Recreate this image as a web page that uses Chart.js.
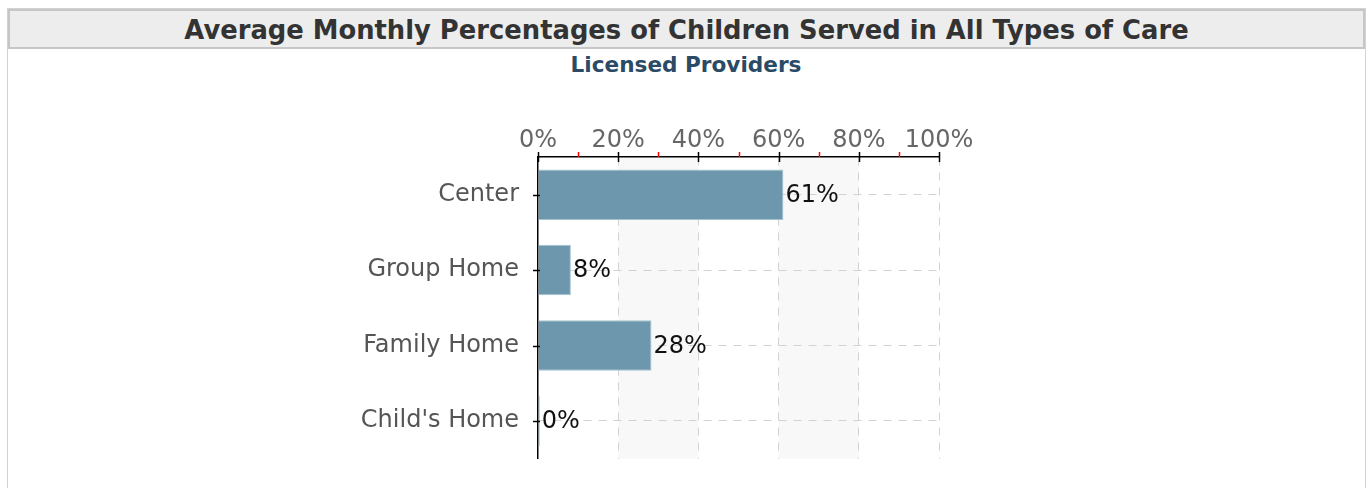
<!DOCTYPE html>
<html>
<head>
<meta charset="utf-8">
<script src="https://cdn.jsdelivr.net/npm/chart.js@4.4.0/dist/chart.umd.min.js"></script>
<style>
  html, body { margin: 0; padding: 0; background: #fff; width: 1370px; height: 488px; overflow: hidden; }
  .box { position: absolute; left: 7px; top: 8px; width: 1357px; height: 520px; border: 1px solid #d2d2d2; }
  .head { height: 36px; margin: 0; border: 2px solid #c6c6c6; background: #ededed;
          font: bold 25.8px "DejaVu Sans", sans-serif; color: #333; text-align: center; line-height: 39px; }
  .sub { position: absolute; left: 0; width: 1372px; top: 52px; text-align: center;
         font: bold 21.6px "DejaVu Sans", sans-serif; color: #2a4a66; }
  #chart { position: absolute; left: 300px; top: 80px; }
</style>
</head>
<body>
<div class="box"><div class="head">Average Monthly Percentages of Children Served in All Types of Care</div></div>
<div class="sub">Licensed Providers</div>
<canvas id="chart" width="700" height="412"></canvas>
<script>
// Datos
const categories = ['Center', 'Group Home', 'Family Home', "Child's Home"];
const percentValues = [61.2, 8.2, 28.3, 0.45];
const tickValues = [0, 20, 40, 60, 80, 100];
const shadedBands = [[20, 40], [60, 80]];

document.addEventListener('DOMContentLoaded', function () {

    const labelFont = { family: 'DejaVu Sans', size: 24 };

    // Franjas grises alternas detrás de la rejilla
    const bandsPlugin = {
        id: 'bands',
        beforeDraw(chart) {
            const { ctx, chartArea, scales } = chart;
            ctx.save();
            ctx.fillStyle = '#f8f8f8';
            shadedBands.forEach(function (b) {
                const x1 = scales.x.getPixelForValue(b[0]);
                const x2 = scales.x.getPixelForValue(b[1]);
                ctx.fillRect(x1, chartArea.top, x2 - x1, chartArea.bottom - chartArea.top);
            });
            ctx.restore();
        }
    };

    // Marcas de los ejes (negras mayores, rojas menores)
    const tickMarksPlugin = {
        id: 'tickMarks',
        afterDraw(chart) {
            const { ctx, scales } = chart;
            ctx.save();
            ctx.lineWidth = 1.5;
            scales.x.ticks.forEach(function (t) {
                const px = Math.round(scales.x.getPixelForValue(t.value)) + 0.5;
                const y0 = scales.x.bottom;
                const major = t.value % 20 === 0;
                ctx.strokeStyle = major ? '#000' : '#ff0000';
                ctx.beginPath();
                ctx.moveTo(px, y0 - 5);
                ctx.lineTo(px, major ? y0 + 5 : y0);
                ctx.stroke();
            });
            ctx.strokeStyle = '#000';
            scales.y.ticks.forEach(function (t, i) {
                const py = Math.round(scales.y.getPixelForTick(i)) + 0.5;
                const x0 = scales.y.right;
                ctx.beginPath();
                ctx.moveTo(x0 - 5, py);
                ctx.lineTo(x0 + 2, py);
                ctx.stroke();
            });
            ctx.restore();
        }
    };

    // Etiquetas de valor al final de cada barra
    const valueLabelsPlugin = {
        id: 'valueLabels',
        afterDatasetsDraw(chart) {
            const { ctx } = chart;
            const meta = chart.getDatasetMeta(0);
            ctx.save();
            ctx.font = labelFont.size + 'px ' + labelFont.family;
            ctx.fillStyle = '#111';
            ctx.textAlign = 'left';
            ctx.textBaseline = 'middle';
            meta.data.forEach(function (bar, i) {
                ctx.fillText(Math.round(percentValues[i]) + '%', bar.x + 2, bar.y + 1);
            });
            ctx.restore();
        }
    };

    const ctx = document.getElementById('chart').getContext('2d');
    new Chart(ctx, {
        type: 'bar',
        data: {
            labels: categories,
            datasets: [{
                data: percentValues,
                backgroundColor: '#6d97ac',
                borderColor: '#a6c3d1',
                borderWidth: 1,
                categoryPercentage: 1,
                barPercentage: 0.67
            }]
        },
        options: {
            indexAxis: 'y',
            responsive: false,
            animation: false,
            layout: { padding: { top: 0, right: 61, bottom: 0, left: 0 } },
            plugins: {
                legend: { display: false },
                tooltip: { enabled: false }
            },
            scales: {
                x: {
                    position: 'top',
                    min: 0,
                    max: 100,
                    afterBuildTicks(scale) {
                        const t = [];
                        for (let v = 0; v <= 100; v += 10) t.push({ value: v });
                        scale.ticks = t;
                    },
                    afterFit(scale) { scale.height = 77; },
                    ticks: {
                        autoSkip: false,
                        maxRotation: 0,
                        padding: 2,
                        color: '#666',
                        font: labelFont,
                        callback: function (v) { return tickValues.includes(v) ? v + '%' : ''; }
                    },
                    grid: {
                        drawTicks: false,
                        color: function (c) {
                            return c.tick && c.tick.value % 20 === 0 && c.tick.value > 0 ? '#d2d2d2' : 'rgba(0,0,0,0)';
                        }
                    },
                    border: { color: '#000', width: 1.5, dash: [8, 7] }
                },
                y: {
                    afterFit(scale) { scale.width = 238; },
                    ticks: {
                        padding: 19,
                        color: '#555',
                        font: labelFont
                    },
                    grid: {
                        offset: false,
                        drawTicks: false,
                        color: '#d2d2d2'
                    },
                    border: { color: '#000', width: 1.5, dash: [8, 7] }
                }
            }
        },
        plugins: [bandsPlugin, tickMarksPlugin, valueLabelsPlugin]
    });
});
</script>
</body>
</html>
